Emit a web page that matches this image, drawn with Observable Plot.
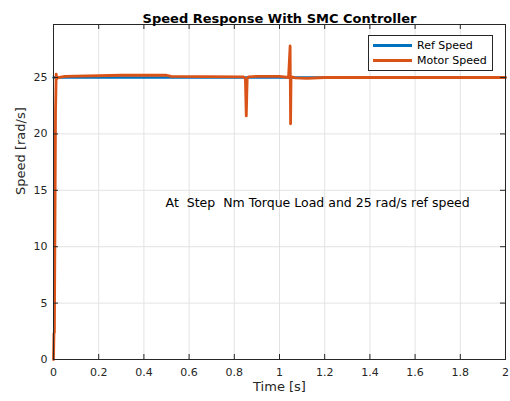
<!DOCTYPE html>
<html><head><meta charset="utf-8">
<script src="https://cdn.jsdelivr.net/npm/d3@7"></script>
<script src="https://cdn.jsdelivr.net/npm/@observablehq/plot@0.6"></script>
<style>
body{margin:0;background:#fff;font-family:"DejaVu Sans",sans-serif;}
#wrap{position:relative;width:510px;height:401px;}
#legend{position:absolute;left:368px;top:35px;width:125px;height:36px;border:1px solid #262626;background:#fff;font-size:11px;color:#000;box-sizing:border-box;}
.row{position:absolute;left:4px;display:flex;align-items:center;line-height:13px;}
.sw{width:39px;height:3px;margin-right:5px;}
</style></head>
<body><div id="wrap"><div id="legend"></div></div>
<script>
const title = "Speed Response With SMC Controller";
const xLabel = "Time [s]";
const yLabel = "Speed [rad/s]";
const note = "At  Step  Nm Torque Load and 25 rad/s ref speed";
const seriesNames = ["Ref Speed", "Motor Speed"];
const seriesColors = ["#0072BD", "#D95319"];
const xTicks = [0,0.2,0.4,0.6,0.8,1,1.2,1.4,1.6,1.8,2];
const yTicks = [0,5,10,15,20,25];
const refT = [0, 2];
const refV = [25, 25];
const motorT = [0, 0.002, 0.004, 0.006, 0.009, 0.012, 0.015, 0.02, 0.05, 0.3, 0.5, 0.52, 0.84, 0.849, 0.853, 0.857, 0.862, 0.9, 1.0, 1.04, 1.047, 1.049, 1.051, 1.054, 1.07, 1.12, 1.2, 1.4, 2.0];
const motorV = [0, 2.3, 2.4, 10, 22, 25.3, 24.9, 25.0, 25.1, 25.2, 25.2, 25.1, 25.05, 24.9, 21.6, 24.9, 25.05, 25.1, 25.1, 25.0, 27.8, 20.9, 25.0, 25.05, 24.97, 24.92, 25.0, 25.0, 25.0];

const ref = refT.map((t,i)=>({t, v: refV[i]}));
const motor = motorT.map((t,i)=>({t, v: motorV[i]}));
const W = 510, H = 401, mL = 53, mR = 5, mT = 24, mB = 42;
const pw = W - mL - mR, ph = H - mT - mB;
const axisColor = "#262626";
const font = '"DejaVu Sans", sans-serif';

const chart = Plot.plot({
  width: W, height: H,
  marginLeft: mL, marginRight: mR, marginTop: mT, marginBottom: mB,
  style: {fontFamily: font, fontSize: "11px", color: axisColor, background: "#fff", overflow: "visible"},
  x: {domain: [0, 2]},
  y: {domain: [0, 29.7]},
  marks: [
    Plot.gridX(xTicks, {stroke: "#e3e3e3", strokeOpacity: 1}),
    Plot.gridY(yTicks, {stroke: "#e3e3e3", strokeOpacity: 1}),
    Plot.line(ref, {x: "t", y: "v", stroke: seriesColors[0], strokeWidth: 2.5}),
    Plot.line(motor, {x: "t", y: "v", stroke: seriesColors[1], strokeWidth: 2.8}),
    Plot.frame({stroke: axisColor, strokeWidth: 1}),
    Plot.axisX(xTicks, {tickSize: 0, tickPadding: 9, label: null, fontSize: 11, fill: axisColor, tickFormat: d => String(d)}),
    Plot.axisY(yTicks, {tickSize: 0, tickPadding: 6, label: null, fontSize: 11, fill: axisColor, tickFormat: d => String(d)}),
    Plot.tickX(xTicks, {x: d => d, stroke: axisColor, insetTop: ph - 5}),
    Plot.tickX(xTicks, {x: d => d, stroke: axisColor, insetBottom: ph - 5}),
    Plot.tickY(yTicks, {y: d => d, stroke: axisColor, insetLeft: pw - 5}),
    Plot.tickY(yTicks, {y: d => d, stroke: axisColor, insetRight: pw - 5}),
    Plot.text([title], {frameAnchor: "top", dy: -11, text: d => d, fontWeight: "bold", fontSize: 13, fill: "#000"}),
    Plot.text([xLabel], {frameAnchor: "bottom", dy: 31, text: d => d, fontSize: 13, fill: axisColor}),
    Plot.text([yLabel], {frameAnchor: "left", dx: -33, dy: 3, rotate: -90, text: d => d, fontSize: 13, fill: axisColor}),
    Plot.text([note], {x: 0.496, y: 13.85, text: d => d, textAnchor: "start", fontSize: 12.5, fill: "#000"})
  ]
});
const wrap = document.getElementById("wrap");
wrap.insertBefore(chart, wrap.firstChild);
const lg = document.getElementById("legend");
seriesNames.forEach((n,i)=>{
  const r = document.createElement("div");
  r.className = "row";
  r.style.top = (i === 0 ? 3 : 18) + "px";
  r.innerHTML = `<div class="sw" style="background:${seriesColors[i]}"></div><span>${n}</span>`;
  lg.appendChild(r);
});
</script></body></html>
